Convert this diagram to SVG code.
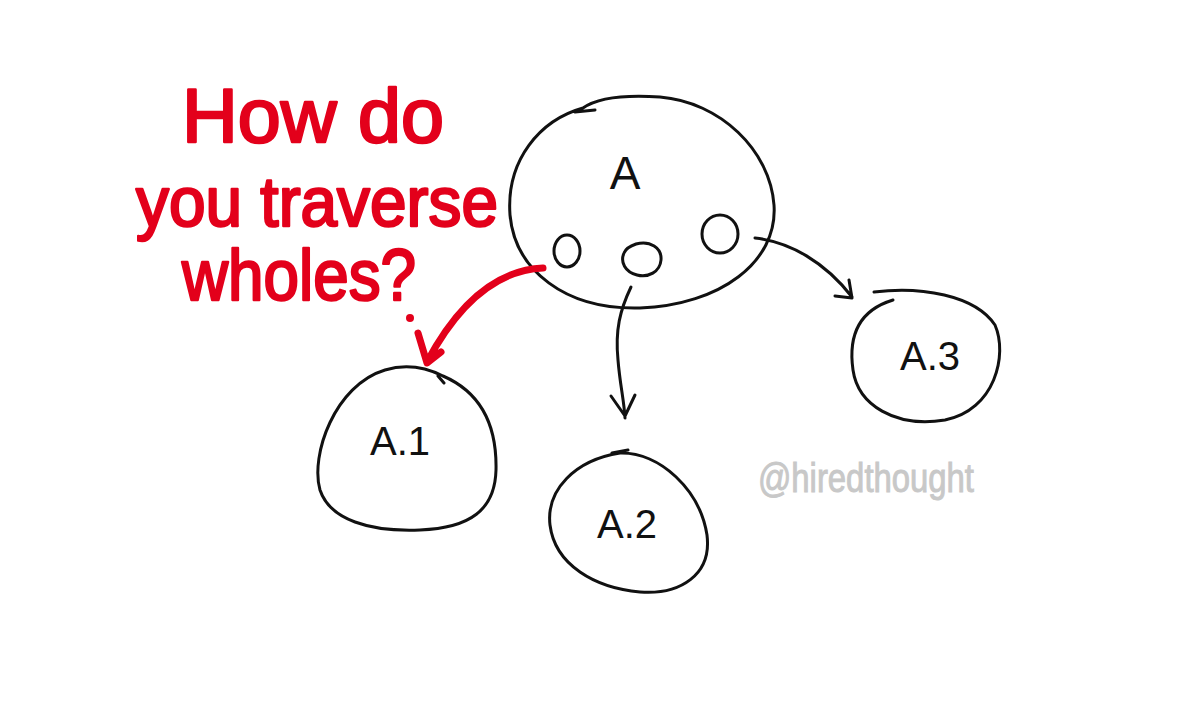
<svg xmlns="http://www.w3.org/2000/svg" width="1200" height="703" viewBox="0 0 1200 703">
<style>
.ink{fill:none;stroke:#111;stroke-width:3;stroke-linecap:round;stroke-linejoin:round}
.red{fill:none;stroke:#e3001b;stroke-width:7;stroke-linecap:round;stroke-linejoin:round}
.lbl{font-family:"Liberation Sans",sans-serif;fill:#111;text-anchor:middle}
.q{font-family:"Liberation Sans",sans-serif;fill:#e3001b;stroke:#e3001b;stroke-width:2.5;stroke-linejoin:round}
.wm{font-family:"Liberation Sans",sans-serif;fill:#c8c8c8;stroke:#c8c8c8;stroke-width:1}
</style>
<rect width="1200" height="703" fill="#fff"/>
<g id="question">
<text class="q" x="182" y="142" font-size="76" textLength="262" lengthAdjust="spacingAndGlyphs">How do</text>
<text class="q" x="136" y="226" font-size="70" textLength="362" lengthAdjust="spacingAndGlyphs">you traverse</text>
<text class="q" x="182" y="300" font-size="72" textLength="234" lengthAdjust="spacingAndGlyphs">wholes?</text>
<circle cx="410" cy="318" r="4" fill="#e3001b"/>
</g>
<g id="nodeA">
<path class="ink" d="M583,108 C600,96 630,95 660,97 C720,102 770,150 774,205 C778,262 720,305 640,308 C565,310 515,270 510,215 C506,160 540,120 583,108 M575,112 L595,110"/>
<text class="lbl" x="625" y="189" font-size="46">A</text>
<ellipse class="ink" cx="567" cy="251" rx="13" ry="16"/>
<path class="ink" d="M636,244 C650,240 662,248 661,260 C660,272 648,278 637,275 C625,272 620,262 624,253 C626,248 630,246 636,244"/>
<ellipse class="ink" cx="720" cy="234" rx="18" ry="19"/>
</g>
<g id="nodeA1">
<path class="ink" d="M443,376 C480,392 497,425 496,470 C495,510 470,528 420,530 C370,532 330,520 320,490 C310,455 335,385 385,370 C405,364 425,367 443,376 M438,376 L444,383"/>
<text class="lbl" x="400" y="455" font-size="40">A.1</text>
</g>
<g id="nodeA2">
<path class="ink" d="M620,453 C660,452 700,490 707,535 C712,575 680,595 640,592 C595,588 555,565 550,525 C546,490 575,460 620,453 M612,453 L628,450"/>
<text class="lbl" x="627" y="538" font-size="40">A.2</text>
</g>
<g id="nodeA3">
<path class="ink" d="M874,292 C920,286 975,295 995,325 C1008,355 995,410 945,420 C895,428 858,405 853,370 C848,335 860,310 893,300"/>
<text class="lbl" x="930" y="370" font-size="40">A.3</text>
</g>
<g id="connectors">
<path class="ink" d="M631,287 C620,310 615,330 618,360 C620,385 624,400 625,418 M611,396 L625,416 L635,395"/>
<path class="ink" d="M755,238 C790,242 825,262 852,297 M835,296 L852,298 L849,280"/>
<path class="red" d="M543,268 C500,270 460,300 427,362 M418,333 L427,363 L441,352"/>
</g>
<g id="watermark">
<text class="wm" x="758" y="492" font-size="40" textLength="216" lengthAdjust="spacingAndGlyphs">@hiredthought</text>
</g>
</svg>
